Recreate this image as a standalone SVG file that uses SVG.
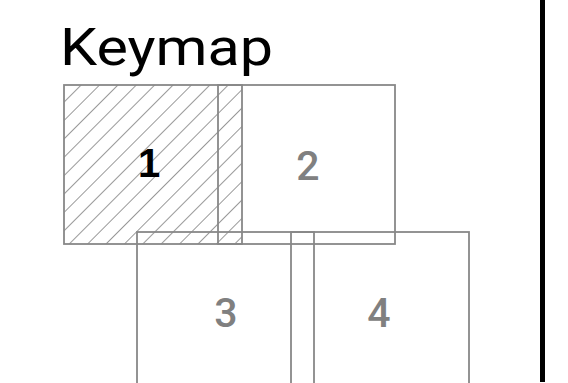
<svg xmlns="http://www.w3.org/2000/svg" width="568" height="383" viewBox="0 0 568 383">
<defs>
<pattern id="hatch" patternUnits="userSpaceOnUse" width="13" height="10" patternTransform="rotate(45)">
<line x1="0" y1="-1" x2="0" y2="11" stroke="#777777" stroke-width="1.5"/>
</pattern>
</defs>
<style>
.box{fill:none;stroke:#888888;stroke-width:1.8}
.hatched{fill:url(#hatch)}
.num{font-family:Roboto,"Liberation Sans",sans-serif;font-weight:500;font-size:41px;fill:#808080;text-anchor:middle}
</style>
<rect width="568" height="383" fill="#ffffff"/>
<text x="60" y="65" font-family="Roboto,'Liberation Sans',sans-serif" font-weight="400" font-size="52" fill="#000000" textLength="213" lengthAdjust="spacingAndGlyphs">Keymap</text>
<g id="node1">
<rect x="64" y="85" width="178" height="159" class="box hatched"/>
<text x="149" y="177" font-family="'Liberation Sans',Arial,sans-serif" font-weight="bold" font-size="40" fill="#000000" text-anchor="middle">1</text>
</g>
<g id="node2">
<rect x="218" y="85" width="177" height="159" class="box"/>
<text x="308" y="180" class="num">2</text>
</g>
<g id="node3">
<rect x="137" y="232" width="177" height="160" class="box"/>
<text x="226" y="327" class="num">3</text>
</g>
<g id="node4">
<rect x="291" y="232" width="178" height="160" class="box"/>
<text x="379" y="327" class="num">4</text>
</g>
<g id="connectors"></g>
<rect x="540" y="0" width="5" height="382" fill="#000000"/>
</svg>
